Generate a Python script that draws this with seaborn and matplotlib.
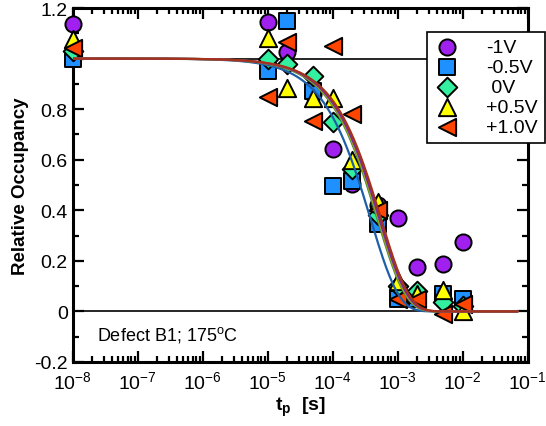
import numpy as np
import pandas as pd
import matplotlib
matplotlib.use("Agg")
import matplotlib.pyplot as plt
import seaborn as sns

sns.set_style("ticks", {"axes.edgecolor": "black", "text.color": "black",
                        "axes.labelcolor": "black", "xtick.color": "black",
                        "ytick.color": "black"})
plt.rcParams["font.family"] = ["Liberation Sans", "DejaVu Sans"]
plt.rcParams["mathtext.fontset"] = "custom"
plt.rcParams["mathtext.rm"] = "Liberation Sans"
plt.rcParams["mathtext.it"] = "Liberation Sans:italic"
plt.rcParams["mathtext.bf"] = "Liberation Sans:bold"

# Pulse widths t_p [s]
t_p = [1e-8, 1e-5, 2e-5, 5e-5, 1e-4, 2e-4, 5e-4, 1e-3, 2e-3, 5e-3, 1e-2]

# Relative occupancy for each gate bias
occ_m1v = [1.137, 1.145, 1.027, 0.86, 0.642, 0.504, 0.42, 0.368, 0.177, 0.188, 0.273]
occ_m05v = [1.0, 0.952, 1.149, 0.873, 0.497, 0.517, 0.346, 0.049, 0.05, 0.07, 0.049]
occ_0v = [1.03, 1.0, 0.978, 0.932, 0.748, 0.563, 0.38, 0.10, 0.08, 0.037, 0.02]
occ_p05v = [1.077, 1.08, 0.882, 0.843, 0.843, 0.60, 0.433, 0.122, 0.07, 0.085, 0.003]
occ_p1v = [1.04, 0.85, 1.066, 0.755, 1.05, 0.78, 0.40, 0.05, 0.05, -0.01, 0.03]

labels = ["-1V", "-0.5V", " 0V", "+0.5V", "+1.0V"]
markers = ["o", "s", "D", "^", "<"]
face_colors = ["#a020f0", "#1e90ff", "#33f0a0", "#ffff00", "#ff4500"]

# Exponential capture fits: occupancy = exp(-t/tau)
fit_tau = [3.8e-4, 4.85e-4, 5.0e-4, 5.2e-4, 5.5e-4]
fit_colors = ["#1f5fa8", "#3b8c3b", "#a5a51a", "#7b2b9b", "#a5321a"]

x_ticks = [1e-8, 1e-7, 1e-6, 1e-5, 1e-4, 1e-3, 1e-2, 1e-1]
x_tick_labels = [r"$10^{-8}$", r"$10^{-7}$", r"$10^{-6}$", r"$10^{-5}$",
                 r"$10^{-4}$", r"$10^{-3}$", r"$10^{-2}$", r"$10^{-1}$"]
y_ticks = [-0.2, 0, 0.2, 0.4, 0.6, 0.8, 1.0, 1.2]
y_tick_labels = ["-0.2", "0", "0.2", "0.4", "0.6", "0.8", "", "1.2"]

fig = plt.figure(figsize=(5.46, 4.27), dpi=100)
ax = fig.add_axes([0.1332, 0.1499, 0.8333, 0.829])

ax.axhline(0, color="black", lw=1.2, zorder=1)
ax.axhline(1, color="black", lw=1.2, zorder=1)

series = [occ_m1v, occ_m05v, occ_0v, occ_p05v, occ_p1v]
handles = []
for vals, lab, mk, fc in zip(series, labels, markers, face_colors):
    df = pd.DataFrame({"t": t_p, "occ": vals})
    size = 155 if mk in ("^", "<") else (100 if mk == "D" else 135)
    sns.scatterplot(data=df, x="t", y="occ", marker=mk, color=fc, s=size,
                    edgecolor="black", linewidth=1.4, ax=ax, zorder=3,
                    label=lab, legend=False, clip_on=False)
    handles.append(ax.collections[-1])

t_fit = np.logspace(-8, np.log10(7e-2), 400)
for tau, col in zip(fit_tau, fit_colors):
    fit_df = pd.DataFrame({"t": t_fit, "occ": np.exp(-t_fit / tau)})
    sns.lineplot(data=fit_df, x="t", y="occ", color=col, lw=1.6, ax=ax, zorder=4)

ax.set_xscale("log")
ax.set_xlim(1e-8, 1e-1)
ax.set_ylim(-0.2, 1.2)
ax.set_xticks(x_ticks)
ax.set_xticklabels(x_tick_labels)
ax.set_yticks(y_ticks)
ax.set_yticklabels(y_tick_labels)
ax.xaxis.set_minor_locator(matplotlib.ticker.LogLocator(base=10, subs=np.arange(2, 10), numticks=20))
ax.xaxis.set_minor_formatter(matplotlib.ticker.NullFormatter())
ax.yaxis.set_minor_locator(matplotlib.ticker.MultipleLocator(0.1))

ax.tick_params(which="both", direction="in", top=True, right=True, labelsize=14,
               width=1.6, colors="black")
ax.tick_params(which="major", length=8)
ax.tick_params(which="minor", length=4)
ax.tick_params(axis="x", pad=6)
for sp in ax.spines.values():
    sp.set_linewidth(2.2)
    sp.set_color("black")

ax.set_xlabel(r"$\mathbf{t}_\mathbf{p}$  [s]", fontsize=14, fontweight="bold",
              labelpad=2, color="black")
ax.set_ylabel("Relative Occupancy", fontsize=13.5, fontweight="bold", labelpad=4,
              color="black")

ax.text(0.053, 0.08, r"Defect B1; 175$^{\rm o}$C", transform=ax.transAxes,
        fontsize=13, va="center", ha="left", color="black")

leg = ax.legend(handles, labels, loc="upper left",
                bbox_to_anchor=(427 / 546, 1 - 33 / 427), bbox_transform=fig.transFigure,
                fontsize=14, frameon=True, fancybox=False, framealpha=1,
                edgecolor="black", handletextpad=1.3, labelspacing=0.12,
                borderpad=0.35, handlelength=1.4, borderaxespad=0)
leg.get_frame().set_linewidth(1.2)
leg.set_zorder(10)
for txt in leg.get_texts():
    txt.set_color("black")

fig.savefig("out.png", dpi=100)
